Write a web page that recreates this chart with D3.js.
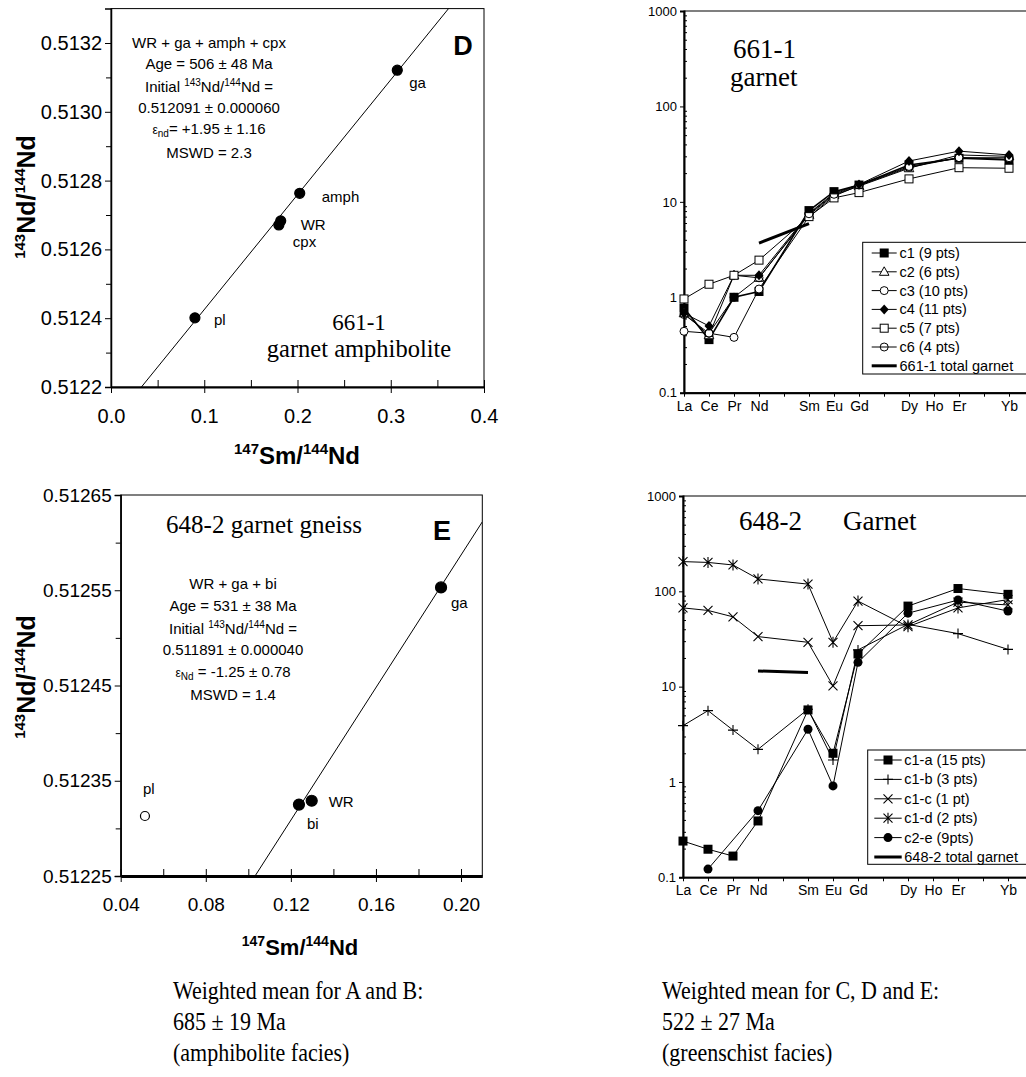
<!DOCTYPE html>
<html><head><meta charset="utf-8">
<script src="https://cdn.jsdelivr.net/npm/d3@7"></script>
<style>body{margin:0;background:#fff}</style>
</head><body><svg id="c" width="1026" height="1077"></svg>
<script>
// ---------------- DATA ----------------
// Panel D: 661-1 garnet amphibolite isochron
const dSamples = ["ga", "amph", "WR", "cpx", "pl"];
const dSmNd = [0.307, 0.2024, 0.182, 0.180, 0.090];
const dNdNd = [0.513121, 0.512763, 0.512683, 0.512671, 0.512401];
const dIsochron = [0.512091, 0.00334]; // intercept, slope
const dXTicks = [0, 0.1, 0.2, 0.3, 0.4];
const dYTicks = [0.5122, 0.5124, 0.5126, 0.5128, 0.5130, 0.5132];
const dYMinor = [0.5123, 0.5125, 0.5127, 0.5129, 0.5131];
const dXMinor = [0.05, 0.15, 0.25, 0.35];

// Panel E: 648-2 garnet gneiss isochron
const eSamples = ["ga", "WR", "bi", "pl"];
const eSmNd = [0.1906, 0.1298, 0.1238, 0.0514];
const eNdNd = [0.512553, 0.512329, 0.512325, 0.512313];
const eFilled = [true, true, true, false];
const eIsochron = [0.511891, 0.00348];
const eXTicks = [0.04, 0.08, 0.12, 0.16, 0.20];
const eYTicks = [0.51225, 0.51235, 0.51245, 0.51255, 0.51265];
const eYMinor = [0.5123, 0.5124, 0.5125, 0.5126];
const eXMinor = [0.06, 0.10, 0.14, 0.18];

// REE diagrams
const reeElements = ["La","Ce","Pr","Nd","Pm","Sm","Eu","Gd","Tb","Dy","Ho","Er","Tm","Yb","Lu"];
const reeLabels = ["La","Ce","Pr","Nd","Sm","Eu","Gd","Dy","Ho","Er","Yb"];
const reeYTicks = [0.1, 1, 10, 100, 1000];
const reeUsed = ["La","Ce","Pr","Nd","Sm","Eu","Gd","Dy","Er","Yb"];

// 661-1 garnet
const g661Names = ["c1 (9 pts)", "c2 (6 pts)", "c3 (10 pts)", "c4 (11 pts)", "c5  (7 pts)", "c6 (4 pts)"];
const g661Markers = ["sqF", "triO", "cirO", "diaF", "sqO", "cirLine"];
const g661_c1 = [0.77, 0.36, 1.0, 1.15, 8.1, 12.8, 15.0, 24.3, 28.6, 27.5];
const g661_c2 = [0.68, 0.40, 1.7, 1.6, 7.3, 11.8, 14.6, 22.5, 31.0, 30.0];
const g661_c3 = [0.44, 0.42, 0.38, 1.22, 7.0, 11.5, 14.8, 23.0, 29.0, 29.0];
const g661_c4 = [0.68, 0.50, 1.7, 1.7, 7.6, 12.3, 15.2, 26.8, 34.0, 31.0];
const g661_c5 = [0.96, 1.37, 1.7, 2.45, 7.0, 11.0, 12.5, 17.4, 22.8, 22.5];
const g661_c6 = [0.66, 0.42, 1.0, 1.6, 7.5, 12.0, 15.0, 23.5, 29.0, 28.0];
const g661TotalEls = ["Nd", "Sm"];
const g661Total = [3.7, 5.9];

// 648-2 garnet
const g648Names = ["c1-a (15 pts)", "c1-b (3 pts)", "c1-c (1 pt)", "c1-d (2 pts)", "c2-e (9pts)"];
const g648Markers = ["sqF", "plus", "cross", "star", "cirF"];
const g648_c1a = [0.24, 0.197, 0.167, 0.39, 5.7, 2.0, 22.0, 70, 107, 93];
const g648_c1b = [3.9, 5.6, 3.5, 2.2, 5.8, 1.7, 24.3, 45, 36, 24.6];
const g648_c1c = [67, 63, 54, 33.5, 29.2, 10.2, 43.6, 44.4, 77, 72];
const g648_c1d = [205, 201, 189, 135, 119, 29.2, 79, 42.6, 67, 82];
const g648_c2e = [null, 0.122, null, 0.50, 3.57, 0.91, 18, 59, 81, 62];
const g648TotalEls = ["Nd", "Sm"];
const g648Total = [14.6, 14.1];

// bottom notes
const notesLeft = ["Weighted mean for A and B:", "685 ± 19 Ma", "(amphibolite facies)"];
const notesRight = ["Weighted mean for C, D and E:", "522 ± 27 Ma", "(greenschist facies)"];

// ---------------- DRAWING ----------------
const SANS = "'Liberation Sans', Arial, Helvetica, sans-serif";
const SERIF = "'Liberation Serif', 'Times New Roman', serif";
const svg = d3.select("#c");
svg.append("rect").attr("width", 1026).attr("height", 1077).attr("fill", "#fff");

// rich text helper: parts = [[text, mode, size]] mode: "" | "sup" | "sub"
function rich(g, x, y, parts, o) {
  const t = g.append("text").attr("x", x).attr("y", y)
    .attr("font-family", o.family || SANS).attr("font-size", o.size)
    .attr("font-weight", o.weight || "normal")
    .attr("text-anchor", o.anchor || "start").attr("fill", "#000");
  if (o.transform) t.attr("transform", o.transform);
  let shift = 0;
  parts.forEach(p => {
    const [txt, mode, sz] = p;
    let target = 0;
    if (mode === "sup") target = -(o.supShift || o.size * 0.42);
    if (mode === "sub") target = (o.subShift || o.size * 0.3);
    const ts = t.append("tspan").text(txt).attr("dy", target - shift);
    shift = target;
    if (mode === "sup" || mode === "sub") ts.attr("font-size", sz || o.supSize || o.size * 0.6);
    else if (sz) ts.attr("font-size", sz);
  });
  return t;
}

function isoPanel(cfg) {
  const g = svg.append("g");
  const x = d3.scaleLinear().domain(cfg.xDom).range([cfg.left, cfg.right]);
  const y = d3.scaleLinear().domain(cfg.yDom).range([cfg.bottom, cfg.top]);
  const clipId = "clip" + cfg.id;
  svg.append("clipPath").attr("id", clipId).append("rect")
    .attr("x", cfg.left).attr("y", cfg.top)
    .attr("width", cfg.right - cfg.left).attr("height", cfg.bottom - cfg.top);

  g.append("rect").attr("x", cfg.left).attr("y", cfg.top)
    .attr("width", cfg.right - cfg.left).attr("height", cfg.bottom - cfg.top)
    .attr("fill", "none").attr("stroke", "#000").attr("stroke-width", 1);

  const ya = g.append("g").attr("transform", `translate(${cfg.left},0)`)
    .call(d3.axisLeft(y).tickValues(cfg.yTicks).tickSize(6).tickPadding(3).tickFormat(d3.format(cfg.yFmt)));
  ya.select(".domain").attr("stroke-width", 1.5);
  ya.selectAll("text").attr("font-family", SANS).attr("font-size", cfg.tickSize).attr("fill", "#000");
  const ym = g.append("g").attr("transform", `translate(${cfg.left},0)`)
    .call(d3.axisLeft(y).tickValues(cfg.yMinor).tickSize(5).tickFormat(""));
  ym.select(".domain").remove();

  const xa = g.append("g").attr("transform", `translate(0,${cfg.bottom})`)
    .call(d3.axisBottom(x).tickValues(cfg.xTicks).tickSizeInner(6).tickSizeOuter(0).tickPadding(cfg.xPad).tickFormat(d3.format(cfg.xFmt)));
  xa.select(".domain").attr("stroke-width", cfg.xAxisW);
  xa.selectAll(".tick line").attr("y1", -7).attr("y2", 6);
  xa.selectAll("text").attr("font-family", SANS).attr("font-size", cfg.tickSize).attr("fill", "#000");
  const xm = g.append("g").attr("transform", `translate(0,${cfg.bottom})`)
    .call(d3.axisBottom(x).tickValues(cfg.xMinor).tickSize(-7).tickFormat(""));
  xm.select(".domain").remove();

  const [b, m] = cfg.iso;
  g.append("line").attr("clip-path", `url(#${clipId})`)
    .attr("x1", x(cfg.xDom[0])).attr("y1", y(b + m * cfg.xDom[0]))
    .attr("x2", x(cfg.xDom[1])).attr("y2", y(b + m * cfg.xDom[1]))
    .attr("stroke", "#000").attr("stroke-width", 1);

  cfg.samples.forEach((s, i) => {
    const filled = cfg.filled ? cfg.filled[i] : true;
    g.append("circle").attr("cx", x(cfg.xs[i])).attr("cy", y(cfg.ys[i]))
      .attr("r", filled ? cfg.r : cfg.r - 1)
      .attr("fill", filled ? "#000" : "#fff").attr("stroke", "#000").attr("stroke-width", 1.2);
    const off = cfg.labelOff[i];
    g.append("text").attr("x", x(cfg.xs[i]) + off[0]).attr("y", y(cfg.ys[i]) + off[1])
      .attr("font-family", SANS).attr("font-size", 15).text(s);
  });
  return { g, x, y };
}

const pD = isoPanel({
  id: "D", left: 111, right: 484, top: 8.6, bottom: 387,
  xDom: [0, 0.4], yDom: [0.5122, 0.5133],
  xTicks: dXTicks, yTicks: dYTicks, xMinor: dXMinor, yMinor: dYMinor,
  xFmt: ".1f", yFmt: ".4f", tickSize: 20, xPad: 16, xAxisW: 2,
  iso: dIsochron, samples: dSamples, xs: dSmNd, ys: dNdNd, r: 5,
  labelOff: [[12, 18], [22, 9], [20, 9], [14, 22], [19, 7]]
});
const pE = isoPanel({
  id: "E", left: 120.7, right: 482.3, top: 495, bottom: 876,
  xDom: [0.04, 0.21], yDom: [0.51225, 0.51265],
  xTicks: eXTicks, yTicks: eYTicks, xMinor: eXMinor, yMinor: eYMinor,
  xFmt: ".2f", yFmt: ".5f", tickSize: 19, xPad: 16, xAxisW: 3,
  iso: eIsochron, samples: eSamples, xs: eSmNd, ys: eNdNd, filled: eFilled, r: 5.5,
  labelOff: [[10, 21], [17, 6], [8, 24], [-2, -22]]
});

(function () {
  const g = pD.g, cx = 209, o = { size: 15, anchor: "middle" };
  rich(g, cx, 48, [["WR + ga + amph + cpx"]], o);
  rich(g, cx, 69, [["Age = 506 ± 48 Ma"]], o);
  rich(g, cx, 92, [["Initial "], ["143", "sup", 10], ["Nd/"], ["144", "sup", 10], ["Nd ="]], Object.assign({ supShift: 6 }, o));
  rich(g, cx, 113, [["0.512091 ± 0.000060"]], o);
  rich(g, cx, 134, [["ε", "", 12], ["nd", "sub", 10], ["= +1.95 ± 1.16"]], Object.assign({ subShift: 3 }, o));
  rich(g, cx, 158, [["MSWD = 2.3"]], o);
  rich(g, 463, 55, [["D"]], { size: 27, weight: "bold", anchor: "middle" });
  rich(g, 359, 330, [["661-1"]], { size: 23, family: SERIF, anchor: "middle" });
  rich(g, 359, 357, [["garnet amphibolite"]], { size: 24.5, family: SERIF, anchor: "middle" });
  rich(g, 35, 197, [["143", "sup", 15], ["Nd/"], ["144", "sup", 15], ["Nd"]],
    { size: 25, weight: "bold", anchor: "middle", supShift: 10, transform: "rotate(-90,35,197)" });
  rich(g, 297, 464, [["147", "sup", 15], ["Sm/"], ["144", "sup", 15], ["Nd"]],
    { size: 24, weight: "bold", anchor: "middle", supShift: 10 });
})();

(function () {
  const g = pE.g, cx = 233, o = { size: 15, anchor: "middle" };
  rich(g, cx, 589, [["WR + ga + bi"]], o);
  rich(g, cx, 611, [["Age = 531 ± 38 Ma"]], o);
  rich(g, cx, 634, [["Initial "], ["143", "sup", 10], ["Nd/"], ["144", "sup", 10], ["Nd ="]], Object.assign({ supShift: 6 }, o));
  rich(g, cx, 655, [["0.511891 ± 0.000040"]], o);
  rich(g, cx, 677, [["ε", "", 12], ["Nd", "sub", 10], [" = -1.25 ± 0.78"]], Object.assign({ subShift: 3 }, o));
  rich(g, cx, 700, [["MSWD = 1.4"]], o);
  rich(g, 442, 540, [["E"]], { size: 27, weight: "bold", anchor: "middle" });
  rich(g, 264, 533, [["648-2 garnet gneiss"]], { size: 25, family: SERIF, anchor: "middle" });
  rich(g, 35, 677, [["143", "sup", 15], ["Nd/"], ["144", "sup", 15], ["Nd"]],
    { size: 25, weight: "bold", anchor: "middle", supShift: 10, transform: "rotate(-90,35,677)" });
  rich(g, 300, 955, [["147", "sup", 14], ["Sm/"], ["144", "sup", 14], ["Nd"]],
    { size: 22, weight: "bold", anchor: "middle", supShift: 9 });
})();

function marker(g, type, cx, cy) {
  const m = g.append("g").attr("transform", `translate(${cx},${cy})`);
  const S = "#000";
  switch (type) {
    case "sqF": m.append("rect").attr("x", -4.5).attr("y", -4.5).attr("width", 9).attr("height", 9).attr("fill", S); break;
    case "sqO": m.append("rect").attr("x", -4).attr("y", -4).attr("width", 8).attr("height", 8).attr("fill", "#fff").attr("stroke", S); break;
    case "triO": m.append("path").attr("d", "M0,-5L4.8,3.5L-4.8,3.5Z").attr("fill", "#fff").attr("stroke", S); break;
    case "cirO": m.append("circle").attr("r", 4).attr("fill", "#fff").attr("stroke", S); break;
    case "cirLine": m.append("circle").attr("r", 4).attr("fill", "none").attr("stroke", S); break;
    case "cirF": m.append("circle").attr("r", 4.5).attr("fill", S); break;
    case "diaF": m.append("path").attr("d", "M0,-5L4.5,0L0,5L-4.5,0Z").attr("fill", S); break;
    case "plus": m.append("path").attr("d", "M-5,0H5M0,-5V5").attr("stroke", S).attr("stroke-width", 1.1); break;
    case "cross": m.append("path").attr("d", "M-4.5,-4.5L4.5,4.5M-4.5,4.5L4.5,-4.5").attr("stroke", S).attr("stroke-width", 1.1); break;
    case "star": m.append("path").attr("d", "M-4.5,-4.5L4.5,4.5M-4.5,4.5L4.5,-4.5M0,-5.5V5.5").attr("stroke", S).attr("stroke-width", 1.1); break;
  }
}

function reePanel(cfg) {
  const g = svg.append("g");
  const x = d3.scalePoint().domain(reeElements).range([cfg.left, cfg.left + 25 * (reeElements.length - 1)]);
  const y = d3.scaleLog().domain([0.1, 1000]).range([cfg.bottom, cfg.top]);
  const right = x("Lu");
  g.append("rect").attr("x", cfg.left).attr("y", cfg.top).attr("width", right - cfg.left)
    .attr("height", cfg.bottom - cfg.top).attr("fill", "none").attr("stroke", "#000").attr("stroke-width", 1);
  const ya = g.append("g").attr("transform", `translate(${cfg.left},0)`)
    .call(d3.axisLeft(y).tickValues(reeYTicks).tickSize(4).tickPadding(3).tickFormat(d => d < 1 ? "0.1" : String(d)));
  ya.select(".domain").attr("stroke-width", 2);
  ya.selectAll("text").attr("font-family", SANS).attr("font-size", 13).attr("fill", "#000");
  const minor = [];
  [0.1, 1, 10, 100].forEach(dec => { for (let k = 2; k <= 9; k++) minor.push(dec * k); });
  const ym = g.append("g").attr("transform", `translate(${cfg.left},0)`)
    .call(d3.axisLeft(y).tickValues(minor).tickSize(-3).tickFormat(""));
  ym.select(".domain").remove();
  const xa = g.append("g").attr("transform", `translate(0,${cfg.bottom})`)
    .call(d3.axisBottom(x).tickSize(4).tickSizeOuter(0).tickPadding(4)
      .tickFormat(d => reeLabels.includes(d) ? d : ""));
  xa.select(".domain").attr("stroke-width", 2);
  xa.selectAll("text").attr("font-family", SANS).attr("font-size", 14).attr("fill", "#000");

  const line = d3.line().x(d => x(d[0])).y(d => y(d[1]));
  cfg.series.forEach((vals, i) => {
    const pts = reeUsed.map((el, j) => [el, vals[j]]).filter(d => d[1] != null);
    g.append("path").attr("d", line(pts)).attr("fill", "none").attr("stroke", "#000")
      .attr("stroke-width", cfg.widths ? cfg.widths[i] : 1);
  });
  g.append("path").attr("d", line(cfg.totalEls.map((el, j) => [el, cfg.total[j]])))
    .attr("fill", "none").attr("stroke", "#000").attr("stroke-width", 3);
  cfg.series.forEach((vals, i) => {
    reeUsed.forEach((el, j) => { if (vals[j] != null) marker(g, cfg.markers[i], x(el), y(vals[j])); });
  });

  cfg.titles.forEach(t => rich(g, t[0], t[1], [[t[2]]], { size: 27, family: SERIF }));

  const L = cfg.legend;
  g.append("rect").attr("x", L.x).attr("y", L.y).attr("width", 1040 - L.x).attr("height", L.h)
    .attr("fill", "#fff").attr("stroke", "#000").attr("stroke-width", 1);
  const names = cfg.names.concat([cfg.totalName]);
  names.forEach((nm, i) => {
    const ry = L.y0 + i * L.dy;
    const isTotal = i === names.length - 1;
    g.append("line").attr("x1", L.lx0).attr("x2", L.lx1).attr("y1", ry).attr("y2", ry)
      .attr("stroke", "#000").attr("stroke-width", isTotal ? 3 : 1);
    if (!isTotal) marker(g, cfg.markers[i], (L.lx0 + L.lx1) / 2, ry);
    g.append("text").attr("x", L.tx).attr("y", ry + 5).attr("font-family", SANS).attr("font-size", 14.5).text(nm);
  });
}

reePanel({
  left: 684, top: 11, bottom: 392.7,
  series: [g661_c1, g661_c2, g661_c3, g661_c4, g661_c5, g661_c6],
  widths: [1.6, 1, 1, 1, 1, 1],
  markers: g661Markers, names: g661Names,
  totalEls: g661TotalEls, total: g661Total, totalName: "661-1 total garnet",
  titles: [[733, 58, "661-1"], [730, 86, "garnet"]],
  legend: { x: 862.7, y: 242.3, h: 131.7, y0: 253, dy: 18.8, lx0: 871.7, lx1: 896.7, tx: 899.5 }
});
reePanel({
  left: 683, top: 496, bottom: 877.3,
  series: [g648_c1a, g648_c1b, g648_c1c, g648_c1d, g648_c2e],
  markers: g648Markers, names: g648Names,
  totalEls: g648TotalEls, total: g648Total, totalName: "648-2 total garnet",
  titles: [[739, 530, "648-2"], [843, 530, "Garnet"]],
  legend: { x: 867.7, y: 750, h: 114.3, y0: 760, dy: 19.4, lx0: 874.3, lx1: 901.7, tx: 904.3 }
});

// bottom notes: condensed serif
function notes(lines, x0) {
  lines.forEach((t, i) => {
    svg.append("text").attr("transform", `translate(${x0},${999 + i * 31}) scale(0.88,1)`)
      .attr("font-family", SERIF).attr("font-size", 25).attr("fill", "#000").text(t);
  });
}
notes(notesLeft, 173);
notes(notesRight, 662);
</script></body></html>
